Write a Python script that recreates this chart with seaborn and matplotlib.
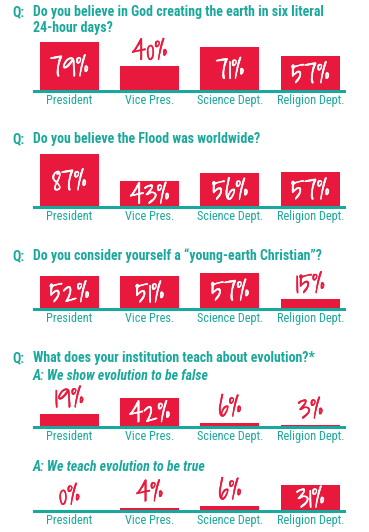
import matplotlib
matplotlib.use("Agg")
import matplotlib.pyplot as plt
import matplotlib.patheffects as pe
import seaborn as sns
import pandas as pd

# data
categories = ["President", "Vice Pres.", "Science Dept.", "Religion Dept."]
q1 = "Do you believe in God creating the earth in six literal\n24-hour days?"
q2 = "Do you believe the Flood was worldwide?"
q3 = "Do you consider yourself a \u201cyoung-earth Christian\u201d?"
q4 = "What does your institution teach about evolution?*"
a4 = "A: We show evolution to be false"
a5 = "A: We teach evolution to be true"
six_days = [79, 40, 71, 57]
flood = [87, 43, 56, 57]
young_earth = [52, 51, 57, 15]
show_false = [19, 42, 6, 3]
teach_true = [0, 4, 6, 31]

RED = "#e8193c"
TEAL = "#1ba89c"
W, H = 369, 532

sns.set_theme(style="white")
plt.rcParams["font.family"] = ["Roboto Condensed", "Liberation Sans", "DejaVu Sans"]
HAND = ["Shadows Into Light", "DejaVu Sans"]

fig = plt.figure(figsize=(W / 100, H / 100), dpi=100)


def ftext(x, y, s, **kw):
    fig.text(x / W, 1 - y / H, s, va="center", color=TEAL, **kw)


# panels: values, baseline y (px), px per percent
panels = [
    (six_days, 91, 0.62),
    (flood, 207, 0.61),
    (young_earth, 309, 0.64),
    (show_false, 427, 0.70),
    (teach_true, 511, 0.85),
]

for vals, base, s in panels:
    h = 100 * s
    ax = fig.add_axes([34 / W, 1 - base / H, 310 / W, h / H])
    df = pd.DataFrame({"cat": categories, "val": vals})
    sns.barplot(data=df, x="cat", y="val", color=RED, width=0.735,
                saturation=1, ax=ax, edgecolor="none")
    ax.set_xlim(-0.44, 3.42)
    ax.set_ylim(0, 100)
    ax.set_xlabel("")
    ax.set_ylabel("")
    ax.set_yticks([])
    for sp in ["top", "left", "right"]:
        ax.spines[sp].set_visible(False)
    ax.spines["bottom"].set_color(TEAL)
    ax.spines["bottom"].set_linewidth(2.2)
    ax.tick_params(axis="x", length=0, pad=2.5, labelsize=8.8, labelcolor=TEAL)
    ax.patch.set_alpha(0)
    for i, v in enumerate(vals):
        inside = v * s >= 26
        c = "white" if inside else RED
        # thicken the thin handwriting strokes a little
        fx = [pe.withStroke(linewidth=0.4, foreground=c)]
        if inside:
            ax.annotate(f"{v}%", (i, v / 2), xytext=(0, -1), textcoords="offset points",
                        ha="center", va="center", color=c, fontsize=20,
                        family=HAND, path_effects=fx)
        else:
            ax.annotate(f"{v}%", (i, v), xytext=(0, -1), textcoords="offset points",
                        ha="center", va="bottom", color=c, fontsize=20,
                        family=HAND, annotation_clip=False, path_effects=fx)

tkw = dict(fontsize=10, fontweight="bold")
ftext(12, 12, "Q:", **tkw)
ftext(33, 20, q1, linespacing=1.2, **tkw)
ftext(12, 139, "Q:", **tkw)
ftext(33, 139, q2, **tkw)
ftext(12, 256, "Q:", **tkw)
ftext(33, 256, q3, **tkw)
ftext(12, 358, "Q:", **tkw)
ftext(33, 358, q4, **tkw)
ftext(33, 376, a4, style="italic", **tkw)
ftext(33, 467, a5, style="italic", **tkw)

fig.savefig("out.png", dpi=100)
